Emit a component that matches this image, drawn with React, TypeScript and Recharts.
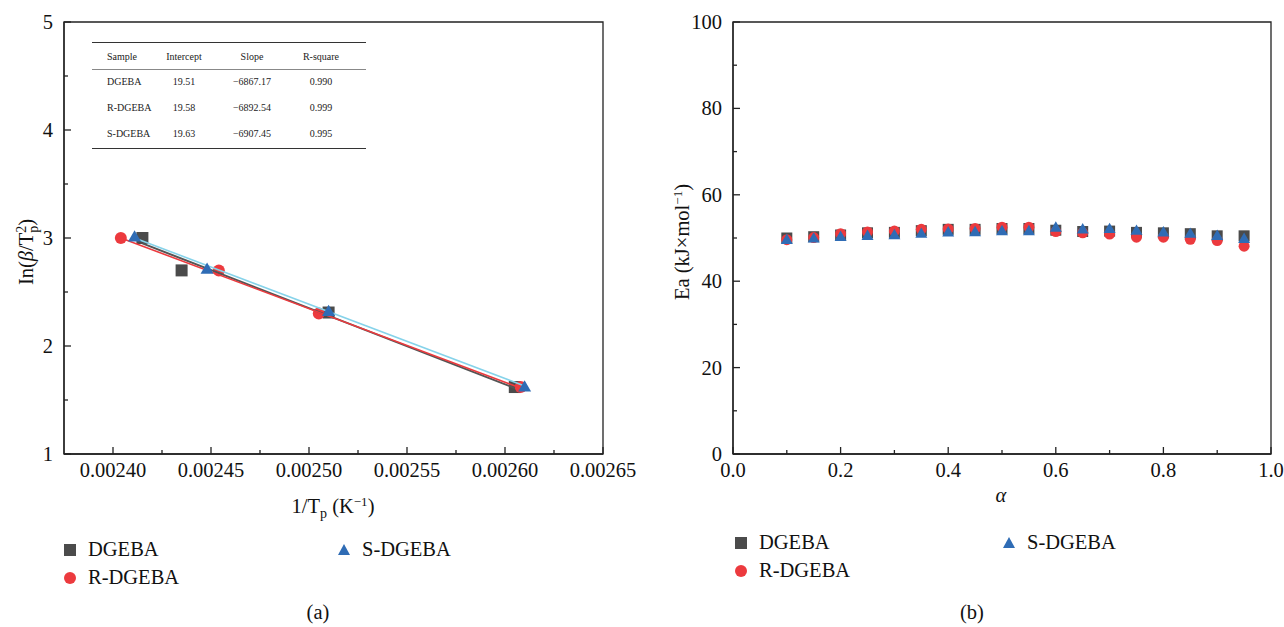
import React from 'react';
import { ScatterChart, Scatter, XAxis, YAxis, ReferenceArea } from 'recharts';

// (a) Kissinger plot data
const invTpDGEBA = [0.002415, 0.002435, 0.00251, 0.002605];
const lnDGEBA = [3.0, 2.7, 2.31, 1.62];
const invTpR = [0.002404, 0.002454, 0.002505, 0.002608];
const lnR = [3.0, 2.7, 2.3, 1.62];
const invTpS = [0.002411, 0.002448, 0.00251, 0.00261];
const lnS = [3.01, 2.71, 2.32, 1.62];

// fitted lines (end points)
const fitXDGEBA = [0.002415, 0.002605];
const fitYDGEBA = [2.95, 1.61];
const fitXR = [0.002404, 0.002608];
const fitYR = [3.0, 1.61];
const fitXS = [0.002411, 0.00261];
const fitYS = [3.0, 1.63];

const leftXMajor = [0.0024, 0.00245, 0.0025, 0.00255, 0.0026, 0.00265];
const leftXMinor = [0.002425, 0.002475, 0.002525, 0.002575, 0.002625];
const leftYMajor = [1, 2, 3, 4, 5];
const leftYMinor = [1.5, 2.5, 3.5, 4.5];

// fit table
const tableHead = ['Sample', 'Intercept', 'Slope', 'R-square'];
const tableSamples = ['DGEBA', 'R-DGEBA', 'S-DGEBA'];
const tableIntercept = ['19.51', '19.58', '19.63'];
const tableSlope = ['\u22126867.17', '\u22126892.54', '\u22126907.45'];
const tableR2 = ['0.990', '0.999', '0.995'];

// (b) activation energy data
const alpha = [0.1, 0.15, 0.2, 0.25, 0.3, 0.35, 0.4, 0.45, 0.5, 0.55, 0.6, 0.65, 0.7, 0.75, 0.8, 0.85, 0.9, 0.95];
const eaDGEBA = [50.0, 50.3, 50.7, 51.2, 51.3, 51.7, 52.0, 52.0, 52.2, 52.2, 51.8, 51.5, 51.6, 51.3, 51.2, 51.0, 50.5, 50.5];
const eaR = [49.6, 50.1, 51.0, 51.4, 51.6, 52.0, 52.1, 52.2, 52.5, 52.5, 51.5, 51.2, 50.9, 50.2, 50.2, 49.7, 49.4, 48.1];
const eaS = [49.6, 49.9, 50.3, 50.5, 50.7, 51.0, 51.3, 51.4, 51.6, 51.6, 52.4, 52.0, 52.1, 51.7, 51.3, 51.0, 50.5, 49.8];

const rightXMajor = [0, 0.2, 0.4, 0.6, 0.8, 1.0];
const rightXMinor = [0.1, 0.3, 0.5, 0.7, 0.9];
const rightYMajor = [0, 20, 40, 60, 80, 100];
const rightYMinor = [10, 30, 50, 70, 90];

const FONT = '"Liberation Serif", "Times New Roman", "DejaVu Serif", serif';
const TICK_FS = 20.5;
const LABEL_FS = 20.5;
const GRAY = '#4b4b4b';
const RED = '#ec3a3e';
const BLUE = '#2f6cb5';
const CYAN = '#86d3ea';

const zip = (xs: number[], ys: number[]) => xs.map((x, i) => ({ x, y: ys[i] }));
const isIn = (arr: number[], v: number) => arr.some((a) => Math.abs(a - v) < 1e-9);

const makeYTick = (majors: number[], fmt: (v: number) => string) => (props: any) => {
  const { x, y, payload } = props;
  const major = isIn(majors, payload.value);
  return (
    <g>
      <line x1={x} y1={y} x2={x + (major ? 7 : 4)} y2={y} stroke="#222" strokeWidth={1.3} />
      {major && (
        <text x={x - 11} y={y} textAnchor="end" dominantBaseline="central" fontFamily={FONT} fontSize={TICK_FS} fill="#111">
          {fmt(payload.value)}
        </text>
      )}
    </g>
  );
};

const makeXTick = (majors: number[], fmt: (v: number) => string) => (props: any) => {
  const { x, y, payload } = props;
  const major = isIn(majors, payload.value);
  return (
    <g>
      <line x1={x} y1={y} x2={x} y2={y - (major ? 7 : 4)} stroke="#222" strokeWidth={1.3} />
      {major && (
        <text x={x} y={y + 16} textAnchor="middle" dominantBaseline="central" fontFamily={FONT} fontSize={TICK_FS} fill="#111">
          {fmt(payload.value)}
        </text>
      )}
    </g>
  );
};

const square = (s: number, color: string) => (p: any) => (
  <rect x={p.cx - s / 2} y={p.cy - s / 2} width={s} height={s} fill={color} />
);
const circle = (r: number, color: string) => (p: any) => <circle cx={p.cx} cy={p.cy} r={r} fill={color} />;
const triangle = (s: number, color: string) => (p: any) => {
  const h = s * 0.87;
  return (
    <path
      d={`M${p.cx},${p.cy - h * 0.6} L${p.cx + s / 2},${p.cy + h * 0.4} L${p.cx - s / 2},${p.cy + h * 0.4} Z`}
      fill={color}
    />
  );
};
const noShape = () => <g />;

const LegendBlock: React.FC<{ left: number; top: number; gapX: number }> = ({ left, top, gapX }) => {
  const item = (icon: React.ReactNode, label: string, x: number, y: number) => (
    <div style={{ position: 'absolute', left: x, top: y, display: 'flex', alignItems: 'center', whiteSpace: 'nowrap' }}>
      <svg width={16} height={16} style={{ marginRight: 10 }}>{icon}</svg>
      <span style={{ fontFamily: FONT, fontSize: LABEL_FS, color: '#111' }}>{label}</span>
    </div>
  );
  return (
    <>
      {item(<rect x={2} y={2} width={12} height={12} fill={GRAY} />, 'DGEBA', left, top)}
      {item(<circle cx={8} cy={8} r={6} fill={RED} />, 'R-DGEBA', left, top + 28)}
      {item(<path d="M8,2 L14,13 L2,13 Z" fill={BLUE} />, 'S-DGEBA', left + gapX, top)}
    </>
  );
};

const App: React.FC = () => {
  const absText = (style: React.CSSProperties, children: React.ReactNode) => (
    <div style={{ position: 'absolute', fontFamily: FONT, fontSize: LABEL_FS, color: '#111', whiteSpace: 'nowrap', ...style }}>
      {children}
    </div>
  );

  return (
    <div style={{ position: 'absolute', left: 0, top: 0, width: 1284, height: 627, background: '#fff', overflow: 'hidden' }}>
      {/* (a) */}
      <div style={{ position: 'absolute', left: 0, top: 0 }}>
        <ScatterChart width={640} height={627} margin={{ top: 22, right: 37, bottom: 143, left: 24 }}>
          <XAxis
            type="number"
            dataKey="x"
            domain={[0.002375, 0.00265]}
            ticks={[...leftXMajor, ...leftXMinor]}
            interval={0}
            tickSize={0}
            tickMargin={0}
            tickLine={false}
            height={30}
            stroke="#222"
            strokeWidth={1.3}
            tick={makeXTick(leftXMajor, (v) => v.toFixed(5))}
          />
          <YAxis
            type="number"
            dataKey="y"
            domain={[1, 5]}
            ticks={[...leftYMajor, ...leftYMinor]}
            interval={0}
            tickSize={0}
            tickMargin={0}
            tickLine={false}
            width={40}
            stroke="#222"
            strokeWidth={1.3}
            tick={makeYTick(leftYMajor, (v) => String(v))}
          />
          <ReferenceArea x1={0.002375} x2={0.00265} y1={1} y2={5} fill="none" stroke="#222" strokeWidth={1.3} />
          <Scatter data={zip(invTpDGEBA, lnDGEBA)} shape={square(12, GRAY)} isAnimationActive={false} />
          <Scatter data={zip(invTpR, lnR)} shape={circle(6, RED)} isAnimationActive={false} />
          <Scatter data={zip(fitXDGEBA, fitYDGEBA)} line={{ stroke: '#555', strokeWidth: 2 }} shape={noShape} isAnimationActive={false} />
          <Scatter data={zip(fitXR, fitYR)} line={{ stroke: RED, strokeWidth: 1.6 }} shape={noShape} isAnimationActive={false} />
          <Scatter data={zip(fitXS, fitYS)} line={{ stroke: CYAN, strokeWidth: 1.6 }} shape={noShape} isAnimationActive={false} />
          <Scatter data={zip(invTpS, lnS)} shape={triangle(13, BLUE)} isAnimationActive={false} />
        </ScatterChart>
      </div>

      {/* fit table inside (a) */}
      <div style={{ position: 'absolute', left: 92, top: 42, width: 274, fontFamily: FONT, fontSize: 10, color: '#222' }}>
        <div style={{ borderTop: '1.5px solid #333', borderBottom: '1.5px solid #888', height: 26, display: 'flex', alignItems: 'center' }}>
          <span style={{ position: 'absolute', left: 15 }}>{tableHead[0]}</span>
          <span style={{ position: 'absolute', left: 92, transform: 'translateX(-50%)' }}>{tableHead[1]}</span>
          <span style={{ position: 'absolute', left: 160, transform: 'translateX(-50%)' }}>{tableHead[2]}</span>
          <span style={{ position: 'absolute', left: 229, transform: 'translateX(-50%)' }}>{tableHead[3]}</span>
        </div>
        <div style={{ borderBottom: '1.5px solid #333', height: 78, position: 'relative' }}>
          {tableSamples.map((s, i) => (
            <div key={s} style={{ position: 'absolute', top: 6 + i * 26, height: 14, width: '100%' }}>
              <span style={{ position: 'absolute', left: 15 }}>{s}</span>
              <span style={{ position: 'absolute', left: 92, transform: 'translateX(-50%)' }}>{tableIntercept[i]}</span>
              <span style={{ position: 'absolute', left: 160, transform: 'translateX(-50%)' }}>{tableSlope[i]}</span>
              <span style={{ position: 'absolute', left: 229, transform: 'translateX(-50%)' }}>{tableR2[i]}</span>
            </div>
          ))}
        </div>
      </div>

      {absText(
        { left: 28, top: 252, transform: 'translate(-50%, -50%) rotate(-90deg)' },
        <>
          In(<i>β</i>/T
          <span style={{ display: 'inline-flex', flexDirection: 'column', fontSize: 14, lineHeight: '12px', verticalAlign: 'middle' }}>
            <span>2</span>
            <span>p</span>
          </span>
          )
        </>
      )}
      {absText(
        { left: 333, top: 508, transform: 'translate(-50%, -50%)' },
        <>
          1/T<sub style={{ fontSize: 14 }}>p</sub> (K<sup style={{ fontSize: 13 }}>−1</sup>)
        </>
      )}
      <LegendBlock left={62} top={538} gapX={274} />
      {absText({ left: 318, top: 612, transform: 'translate(-50%, -50%)' }, '(a)')}

      {/* (b) */}
      <div style={{ position: 'absolute', left: 640, top: 0 }}>
        <ScatterChart width={644} height={627} margin={{ top: 22, right: 13, bottom: 143, left: 53 }}>
          <XAxis
            type="number"
            dataKey="x"
            domain={[0, 1]}
            ticks={[...rightXMajor, ...rightXMinor]}
            interval={0}
            tickSize={0}
            tickMargin={0}
            tickLine={false}
            height={30}
            stroke="#222"
            strokeWidth={1.3}
            tick={makeXTick(rightXMajor, (v) => v.toFixed(1))}
          />
          <YAxis
            type="number"
            dataKey="y"
            domain={[0, 100]}
            ticks={[...rightYMajor, ...rightYMinor]}
            interval={0}
            tickSize={0}
            tickMargin={0}
            tickLine={false}
            width={40}
            stroke="#222"
            strokeWidth={1.3}
            tick={makeYTick(rightYMajor, (v) => String(v))}
          />
          <ReferenceArea x1={0} x2={1} y1={0} y2={100} fill="none" stroke="#222" strokeWidth={1.3} />
          <Scatter data={zip(alpha, eaDGEBA)} shape={square(11, GRAY)} isAnimationActive={false} />
          <Scatter data={zip(alpha, eaR)} shape={circle(5.5, RED)} isAnimationActive={false} />
          <Scatter data={zip(alpha, eaS)} shape={triangle(12, BLUE)} isAnimationActive={false} />
        </ScatterChart>
      </div>

      {absText(
        { left: 682, top: 242, transform: 'translate(-50%, -50%) rotate(-90deg)' },
        <>
          Ea (kJ×mol<sup style={{ fontSize: 13 }}>−1</sup>)
        </>
      )}
      {absText({ left: 1001, top: 495, transform: 'translate(-50%, -50%)', fontStyle: 'italic' }, 'α')}
      <LegendBlock left={733} top={531} gapX={268} />
      {absText({ left: 972, top: 612, transform: 'translate(-50%, -50%)' }, '(b)')}
    </div>
  );
};

export default App;
